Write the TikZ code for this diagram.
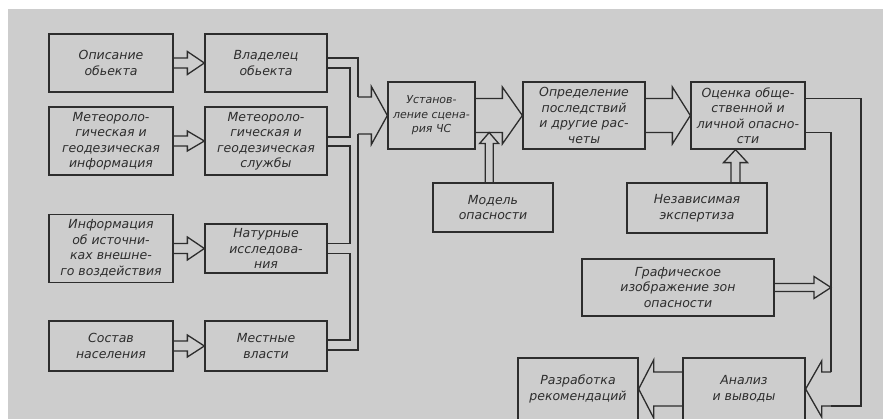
\documentclass[tikz,border=0pt]{standalone}
\usepackage{fontspec}
\setmainfont{DejaVu Sans}
\usetikzlibrary{calc}
\definecolor{scan}{RGB}{205,205,205}
\definecolor{ink}{RGB}{45,45,45}
% hollow double-line arrow: from, to, shaft half width, head half width, head length
\newcommand{\fatarrow}[5]{%
  \draw let \p1=($(#2)-(#1)$), \n1={veclen(\x1,\y1)}, \n2={atan2(\y1,\x1)} in
    [shift={(#1)}, rotate=\n2]
    (0,#3) -- (\n1-#5,#3) -- (\n1-#5,#4) -- (\n1,0)
    -- (\n1-#5,-#4) -- (\n1-#5,-#3) -- (0,-#3);}
\begin{document}
\begin{tikzpicture}[x=1pt, y=-1pt, line width=1.3pt, color=ink,
    line join=miter,
    box/.style={draw, inner sep=0pt, align=center,
      font=\fontsize{12.5}{15.5}\selectfont\itshape},
    smallbox/.style={box, font=\fontsize{11}{14.5}\selectfont\itshape}]
  \useasboundingbox (0,0) rectangle (883,419);
  \clip (0,0) rectangle (883,419);
  \fill[white] (0,0) rectangle (883,419);
  \fill[scan] (8,9) rectangle (883,419);

  % left columns
  \node[box, minimum width=124pt, minimum height=58pt] (opis) at (111,63) {Описание\\обьекта};
  \node[box, minimum width=122pt, minimum height=58pt] (vlad) at (266,63) {Владелец\\обьекта};
  \node[box, minimum width=124pt, minimum height=68pt] (met1) at (111,141) {Метеороло-\\гическая и\\геодезическая\\информация};
  \node[box, minimum width=122pt, minimum height=68pt] (met2) at (266,141) {Метеороло-\\гическая и\\геодезическая\\службы};
  \node[box, minimum width=124pt, minimum height=68pt] (info) at (111,248.5) {Информация\\об источни-\\ках внешне-\\го воздействия};
  \node[box, minimum width=122pt, minimum height=49pt] (natur) at (266,248.5) {Натурные\\исследова-\\ния};
  \node[box, minimum width=124pt, minimum height=50pt] (sostav) at (111,346) {Состав\\населения};
  \node[box, minimum width=122pt, minimum height=50pt] (mestn) at (266,346) {Местные\\власти};

  % main row
  \node[smallbox, minimum width=87pt, minimum height=67pt] (ustan) at (431.5,115.5) {Установ-\\ление сцена-\\рия ЧС};
  \node[box, minimum width=122pt, minimum height=67pt] (opred) at (584,115.5) {Определение\\последствий\\и другие рас-\\четы};
  \node[box, minimum width=114pt, minimum height=67pt] (otsen) at (748,115.5) {Оценка обще-\\ственной и\\личной опасно-\\сти};
  \node[box, minimum width=120pt, minimum height=49pt] (model) at (493,207.5) {Модель\\опасности};
  \node[box, minimum width=140pt, minimum height=50pt] (nezav) at (697,208) {Независимая\\экспертиза};
  \node[box, minimum width=192pt, minimum height=57pt] (graf) at (678,287.5) {Графическое\\изображение зон\\опасности};
  \node[box, minimum width=122pt, minimum height=62pt] (anal) at (744,389) {Анализ\\и выводы};
  \node[box, minimum width=120pt, minimum height=62pt] (razr) at (578,389) {Разработка\\рекомендаций};

  \path (350,0) coordinate (bx)
    (358,115.5) coordinate (bin)
    (831,389) coordinate (ain)
    (861,250) coordinate (bout)
    ($(ustan.east)+(13.5,17)$) coordinate (mtip)
    ($(otsen.south)+(-12.5,0)$) coordinate (ntip);
  \path (model.north -| mtip) coordinate (mbase)
    (nezav.north -| ntip) coordinate (nbase)
    (graf.east -| ain) coordinate (gtip);
  \path ($(vlad.east)+(0,-5)$) coordinate (vlad-u)
    ($(vlad.east)+(0,5)$) coordinate (vlad-d)
    ($(met2.east)+(0,-4)$) coordinate (met2-u)
    ($(met2.east)+(0,5)$) coordinate (met2-d)
    ($(natur.east)+(0,-5)$) coordinate (natur-u)
    ($(natur.east)+(0,5)$) coordinate (natur-d)
    ($(mestn.east)+(0,-6)$) coordinate (mestn-u)
    ($(mestn.east)+(0,4)$) coordinate (mestn-d);

  % inputs
  \fatarrow{opis.east}{vlad.west}{5}{11.5}{17}
  \fatarrow{met1.east}{met2.west}{5}{10}{17}
  \fatarrow{info.east}{natur.west}{5}{11.5}{17}
  \fatarrow{sostav.east}{mestn.west}{5}{11}{17}

  % bus to scenario
  \draw (vlad-u) -| ($(bin)+(0,-18.5)$);
  \draw (mestn-d) -| ($(bin)+(0,18.5)$);
  \draw (vlad-d) -- (vlad-d -| bx) |- (met2-u);
  \draw (met2-d) -- (met2-d -| bx) |- (natur-u);
  \draw (natur-d) -- (natur-d -| bx) |- (mestn-u);
  \fatarrow{bin}{ustan.west}{18.5}{29}{16}

  \fatarrow{ustan.east}{opred.west}{17}{28.5}{20}
  \fatarrow{opred.east}{otsen.west}{17}{28.5}{18}
  \fatarrow{mbase}{mtip}{4}{9.5}{11}
  \fatarrow{nbase}{ntip}{4.5}{12}{13}

  % output loop
  \draw ($(otsen.east)+(0,17)$) -| ($(ain)+(0,-17)$);
  \draw ($(otsen.east)+(0,-17)$) -| (bout) |- ($(ain)+(0,17)$);
  \fatarrow{graf.east}{gtip}{4}{11}{17}
  \fatarrow{ain}{anal.east}{17}{28}{16}
  \fatarrow{anal.west}{razr.east}{17}{29}{15}
\end{tikzpicture}
\end{document}
